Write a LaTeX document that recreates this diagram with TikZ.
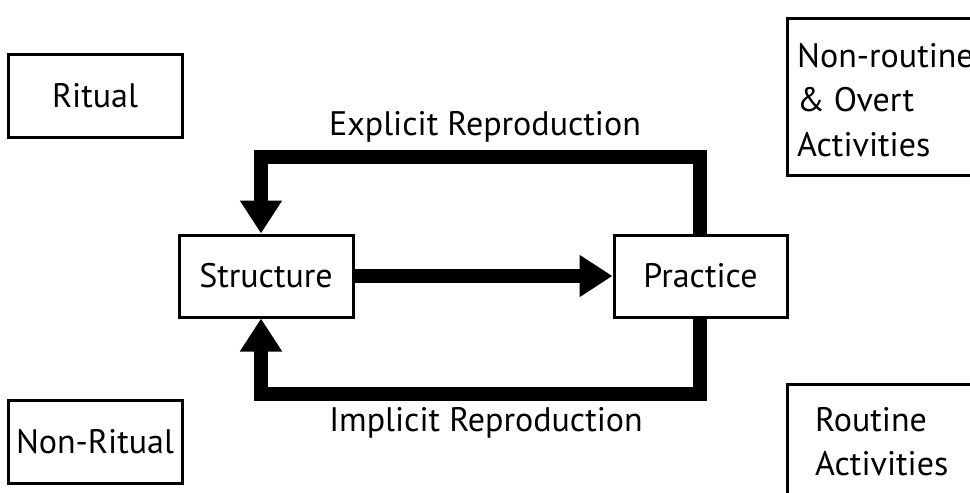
\documentclass[tikz,border=0pt]{standalone}
\usepackage{fontspec}
\setmainfont{PT Sans}
\usetikzlibrary{arrows.meta,calc}
\begin{document}
\begin{tikzpicture}[x=1pt,y=-1pt,
  txt/.style={font=\fontsize{34}{44.5}\selectfont},
  box/.style={draw,line width=3pt,inner sep=0pt,txt},
  flow/.style={line width=14pt,line join=miter,-{Triangle[length=33pt,width=40pt]}},
  lbl/.style={txt,inner sep=0pt}]
\useasboundingbox (0,0) rectangle (970,493);
\clip (0,0) rectangle (970,493);
\node[box,minimum width=174pt,minimum height=83pt] (rit) at (95,95.5) {Ritual};
\node[box,minimum width=174pt,minimum height=83pt] (nrit) at (95,441.5) {Non-Ritual};
\node[box,minimum width=174pt,minimum height=82pt] (S) at (266,276) {Structure};
\node[box,minimum width=173pt,minimum height=82pt] (P) at (700.5,276) {Practice};
\node[box,anchor=north west,minimum width=230pt,minimum height=157pt] (nr) at (786,17) {};
\node[lbl,anchor=north west,align=left] (nrt) at (797,43) {Non-routine\\\& Overt\\Activities};
\node[box,anchor=north west,minimum width=230pt,minimum height=130pt] (ro) at (786,383) {};
\node[lbl,anchor=north west,align=left] (rot) at (815,407) {Routine\\Activities};
\coordinate (tl) at (261,157);
\coordinate (tr) at (700,157);
\coordinate (bl) at (261,394);
\coordinate (br) at (700,394);
\draw[flow] (S.east) -- (P.west);
\draw[flow] (tr |- P.north) -- (tr) -- (tl) -- (tl |- S.north);
\draw[flow] (br |- P.south) -- (br) -- (bl) -- (bl |- S.south);
\node[txt] (ex) at (485,127) {Explicit Reproduction};
\node[txt] (im) at (486,423) {Implicit Reproduction};
\end{tikzpicture}
\end{document}
